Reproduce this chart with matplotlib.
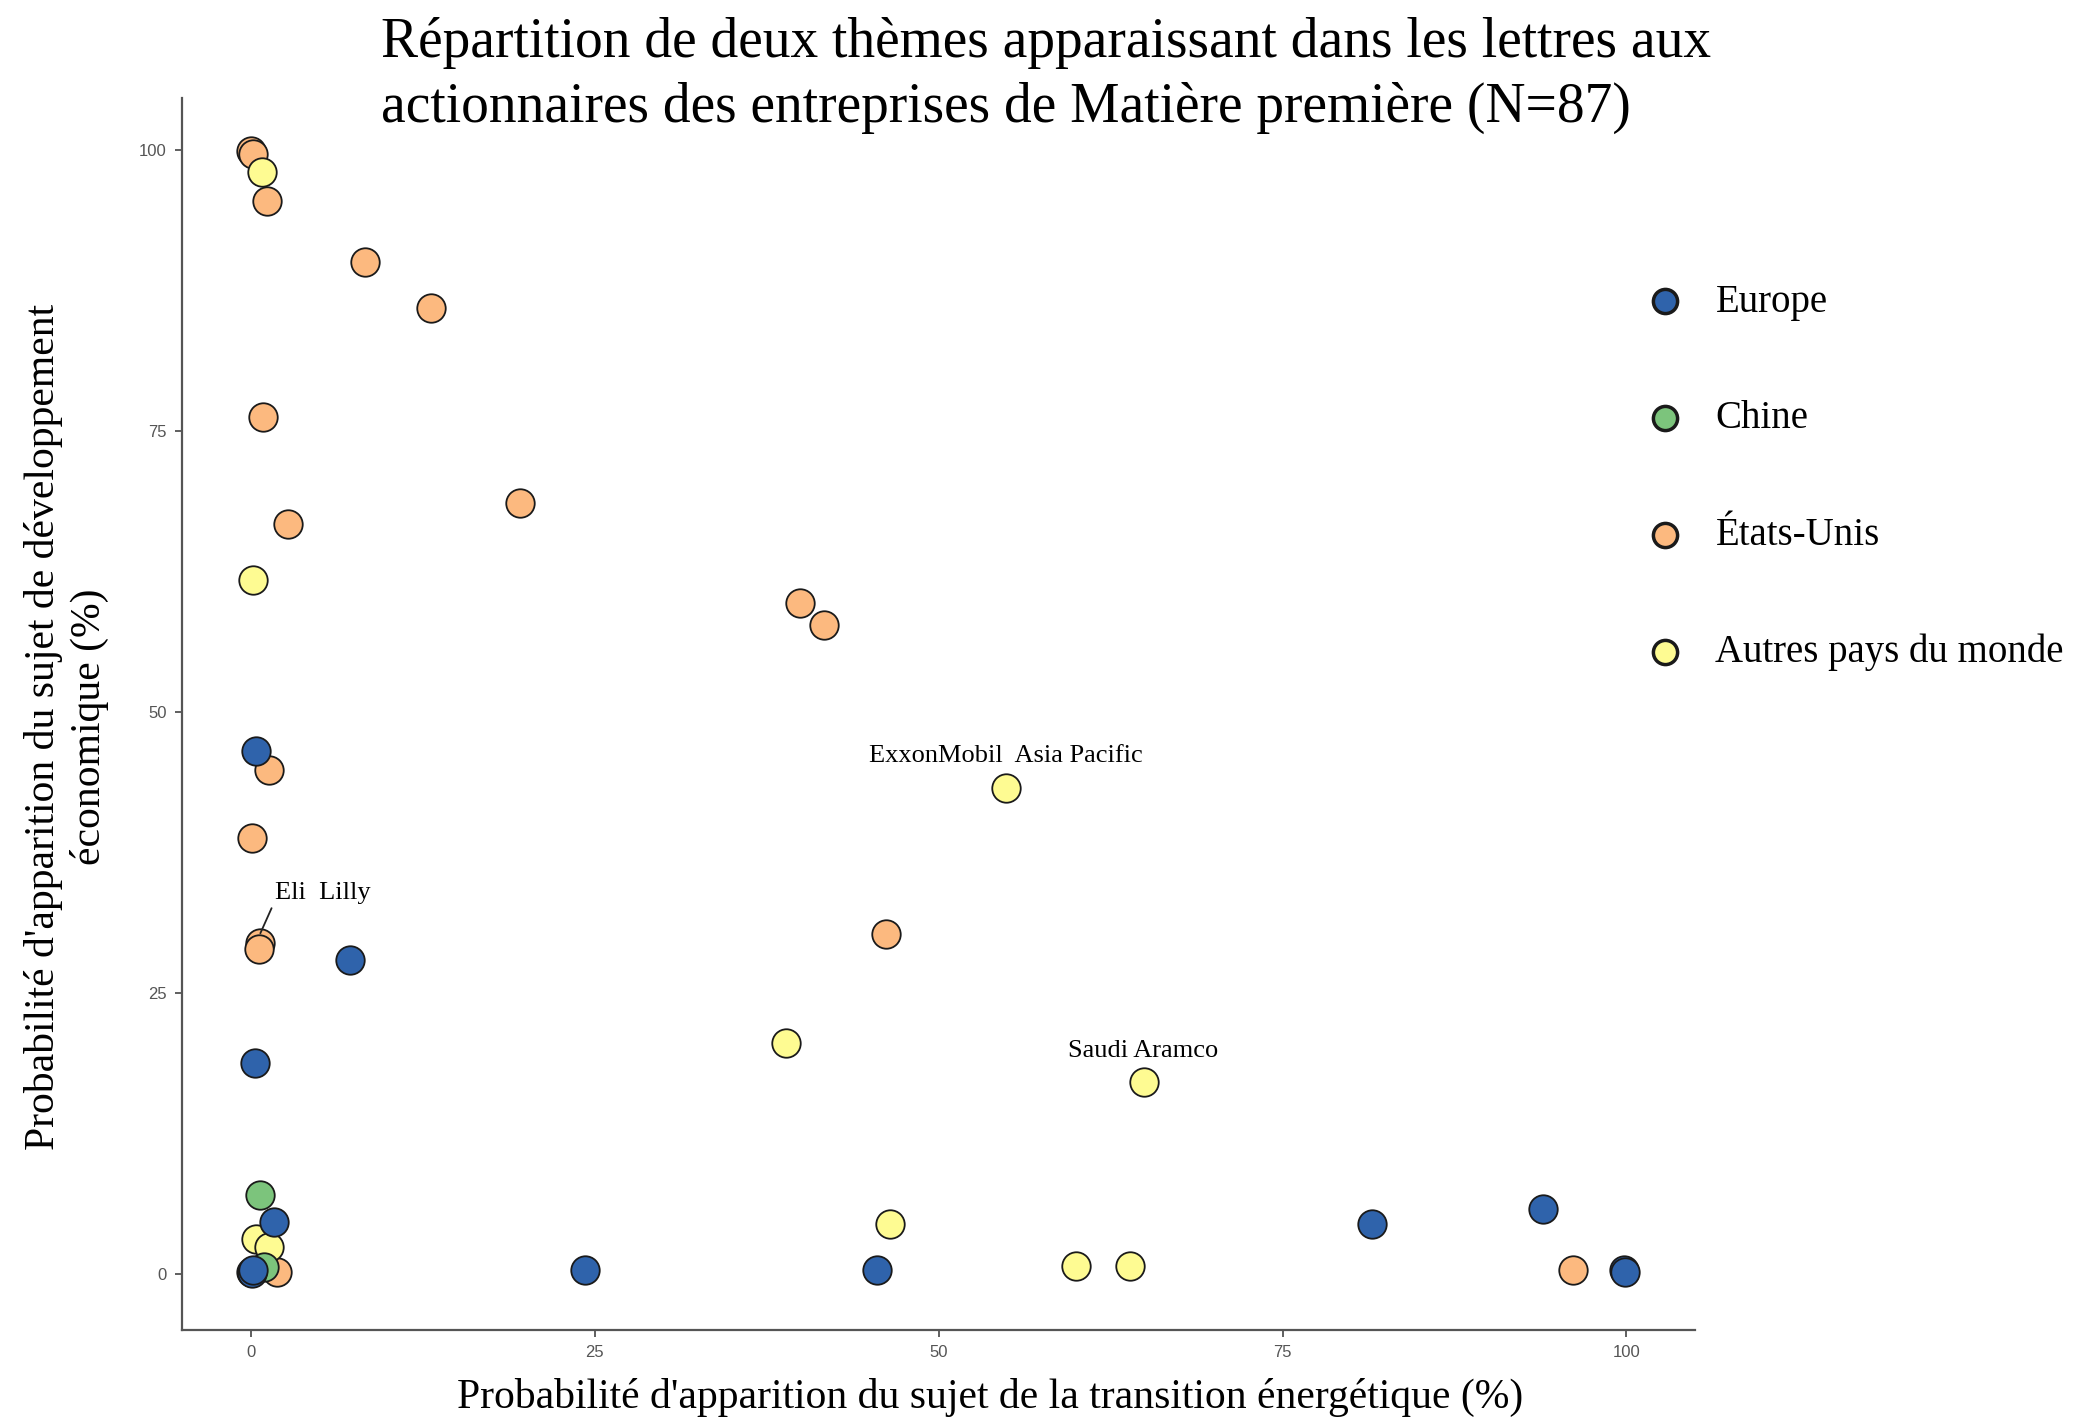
import matplotlib
matplotlib.use("Agg")
import matplotlib.pyplot as plt

categories = ["Europe", "Chine", "États-Unis", "Autres pays du monde"]
colors = ["#2f63ab", "#7cc47c", "#fcb97f", "#fefb92"]

eu_x = [0.4, 7.2, 0.3, 1.7, 0.0, 0.1, 0.2, 24.3, 45.5, 81.5, 93.9, 99.8, 99.9]
eu_y = [46.5, 27.9, 18.8, 4.6, 0.2, 0.1, 0.3, 0.3, 0.3, 4.4, 5.8, 0.3, 0.2]

cn_x = [0.7, 0.95]
cn_y = [7.0, 0.6]

us_x = [0.0, 0.2, 1.2, 8.3, 13.1, 0.9, 2.7, 19.6, 39.9, 41.7, 1.3, 0.1, 0.7, 0.6, 46.2, 1.9, 96.1]
us_y = [99.9, 99.6, 95.5, 90.0, 85.9, 76.2, 66.7, 68.6, 59.7, 57.7, 44.8, 38.8, 29.4, 28.9, 30.2, 0.2, 0.3]

ot_x = [0.8, 0.2, 54.9, 38.9, 64.9, 46.5, 60.0, 63.9, 0.4, 1.3]
ot_y = [98.0, 61.7, 43.2, 20.5, 17.1, 4.4, 0.7, 0.7, 3.1, 2.4]

labels = ["ExxonMobil  Asia Pacific", "Saudi Aramco", "Eli  Lilly"]
label_x = [54.9, 64.9, 0.7]
label_y = [43.2, 17.1, 29.4]

xticks = [0, 25, 50, 75, 100]
yticks = [0, 25, 50, 75, 100]

serif = ["Liberation Serif", "DejaVu Serif"]

fig = plt.figure(figsize=(20.96, 14.24), dpi=100)
ax = fig.add_axes([0.0868, 0.066, 0.722, 0.865])

series = [(eu_x, eu_y), (cn_x, cn_y), (us_x, us_y), (ot_x, ot_y)]
order = [2, 3, 1, 0]
handles = {}
for i in order:
    xs, ys = series[i]
    h = ax.scatter(xs, ys, s=420, c=colors[i], edgecolors="#1a1a1a",
                   linewidths=1.3, zorder=3 + order.index(i), label=categories[i])
    handles[i] = h

ax.set_xlim(-5, 105)
ax.set_ylim(-5, 104.6)
ax.set_xticks(xticks)
ax.set_yticks(yticks)
ax.set_xticklabels([str(t) for t in xticks], fontsize=12, color="#555555",
                   family=["Liberation Sans", "DejaVu Sans"])
ax.set_yticklabels([str(t) for t in yticks], fontsize=12, color="#555555",
                   family=["Liberation Sans", "DejaVu Sans"])
ax.tick_params(axis="both", length=5, width=1.2, color="#444444", direction="out", pad=6)
for side in ["top", "right"]:
    ax.spines[side].set_visible(False)
for side in ["left", "bottom"]:
    ax.spines[side].set_color("#555555")
    ax.spines[side].set_linewidth(1.6)

ax.set_xlabel("Probabilité d'apparition du sujet de la transition énergétique (%)",
              fontsize=30, family=serif)
ax.xaxis.set_label_coords(0.534, -0.039)
ax.set_ylabel("Probabilité d'apparition du sujet de développement\néconomique (%)",
              fontsize=30, family=serif, linespacing=1.25)
ax.yaxis.set_label_coords(-0.048, 0.49)

# annotations
ax.text(label_x[0], label_y[0] + 2.9, labels[0], ha="center", va="center",
        fontsize=19, family=serif, zorder=10)
ax.text(label_x[1], label_y[1] + 2.7, labels[1], ha="center", va="center",
        fontsize=19, family=serif, zorder=10)
ax.annotate(labels[2], xy=(label_x[2], label_y[2] + 0.9), xytext=(1.8, 33.9),
            ha="left", va="center", fontsize=19, family=serif, zorder=10,
            arrowprops=dict(arrowstyle="-", color="#222222", lw=1.3,
                            shrinkA=2, shrinkB=0, relpos=(0.0, 0.2)))

fig.text(0.1818, 0.988, "Répartition de deux thèmes apparaissant dans les lettres aux\n"
         "actionnaires des entreprises de Matière première (N=87)",
         ha="left", va="top", fontsize=40, family=serif, linespacing=1.32)

leg = fig.legend([handles[i] for i in range(4)], categories, loc="upper left",
                 bbox_to_anchor=(0.7665, 0.8145), frameon=False, prop={"family": serif, "size": 28},
                 labelspacing=2.05, handletextpad=0.3, markerscale=0.85, borderpad=0)
for lh in leg.legend_handles:
    lh.set_linewidth(2.5)

fig.savefig("out.png", dpi=100)
